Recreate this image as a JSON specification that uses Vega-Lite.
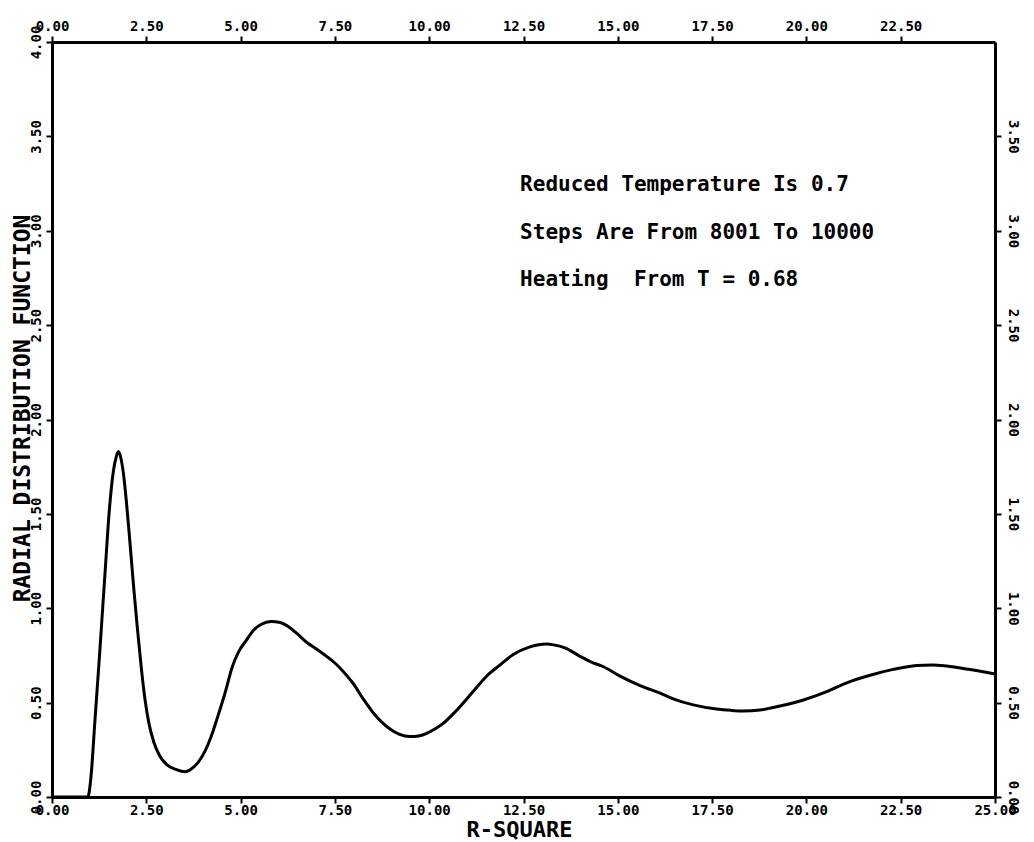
{
  "$schema": "https://vega.github.io/schema/vega-lite/v6.json",
  "width": 943,
  "height": 755,
  "autosize": "none",
  "padding": {"left": 52, "top": 42, "right": 39, "bottom": 45},
  "background": "white",
  "config": {
    "view": {"stroke": null},
    "axis": {
      "grid": false,
      "domainColor": "black",
      "domainWidth": 3,
      "tickColor": "black",
      "tickWidth": 2,
      "tickSize": 6,
      "labelColor": "black",
      "labelFont": "DejaVu Sans Mono",
      "labelFontWeight": "bold",
      "labelFontSize": 14,
      "labelOverlap": false,
      "labelFlush": false,
      "titleColor": "black",
      "titleFont": "DejaVu Sans Mono",
      "titleFontWeight": "bold"
    }
  },
  "datasets": {
    "gr": [
      {"r2": 0, "g": 0},
      {"r2": 0.5, "g": 0},
      {"r2": 0.95, "g": 0},
      {"r2": 1.03, "g": 0.1},
      {"r2": 1.14, "g": 0.41},
      {"r2": 1.27, "g": 0.78},
      {"r2": 1.41, "g": 1.2},
      {"r2": 1.52, "g": 1.52},
      {"r2": 1.63, "g": 1.73},
      {"r2": 1.7, "g": 1.8},
      {"r2": 1.76, "g": 1.83},
      {"r2": 1.82, "g": 1.8},
      {"r2": 1.89, "g": 1.72},
      {"r2": 1.97, "g": 1.57},
      {"r2": 2.07, "g": 1.34},
      {"r2": 2.17, "g": 1.1},
      {"r2": 2.27, "g": 0.88},
      {"r2": 2.38, "g": 0.66},
      {"r2": 2.47, "g": 0.51},
      {"r2": 2.57, "g": 0.39},
      {"r2": 2.7, "g": 0.29},
      {"r2": 2.85, "g": 0.22},
      {"r2": 3.05, "g": 0.17},
      {"r2": 3.3, "g": 0.145},
      {"r2": 3.53, "g": 0.134},
      {"r2": 3.7, "g": 0.15},
      {"r2": 3.88, "g": 0.185},
      {"r2": 4.05, "g": 0.24},
      {"r2": 4.22, "g": 0.32},
      {"r2": 4.4, "g": 0.43},
      {"r2": 4.6, "g": 0.56},
      {"r2": 4.78, "g": 0.69},
      {"r2": 4.95, "g": 0.77},
      {"r2": 5.15, "g": 0.83},
      {"r2": 5.35, "g": 0.885},
      {"r2": 5.55, "g": 0.915},
      {"r2": 5.8, "g": 0.93},
      {"r2": 6.05, "g": 0.925},
      {"r2": 6.25, "g": 0.905},
      {"r2": 6.5, "g": 0.865},
      {"r2": 6.75, "g": 0.82},
      {"r2": 7.0, "g": 0.785},
      {"r2": 7.28, "g": 0.745},
      {"r2": 7.5, "g": 0.71},
      {"r2": 7.72, "g": 0.665},
      {"r2": 7.99, "g": 0.6},
      {"r2": 8.25, "g": 0.52},
      {"r2": 8.52, "g": 0.445},
      {"r2": 8.75, "g": 0.395},
      {"r2": 8.96, "g": 0.36},
      {"r2": 9.2, "g": 0.333},
      {"r2": 9.49, "g": 0.32},
      {"r2": 9.72, "g": 0.323},
      {"r2": 9.93, "g": 0.337},
      {"r2": 10.15, "g": 0.36},
      {"r2": 10.37, "g": 0.39},
      {"r2": 10.73, "g": 0.46},
      {"r2": 11.17, "g": 0.56},
      {"r2": 11.52, "g": 0.64},
      {"r2": 11.88, "g": 0.7},
      {"r2": 12.23, "g": 0.755},
      {"r2": 12.67, "g": 0.795},
      {"r2": 12.9, "g": 0.807},
      {"r2": 13.11, "g": 0.81},
      {"r2": 13.3, "g": 0.806},
      {"r2": 13.6, "g": 0.79},
      {"r2": 14.0, "g": 0.745},
      {"r2": 14.3, "g": 0.715},
      {"r2": 14.62, "g": 0.69},
      {"r2": 15.06, "g": 0.64},
      {"r2": 15.59, "g": 0.59},
      {"r2": 16.12, "g": 0.55},
      {"r2": 16.47, "g": 0.52},
      {"r2": 17.0, "g": 0.488},
      {"r2": 17.62, "g": 0.466},
      {"r2": 18.0, "g": 0.459},
      {"r2": 18.33, "g": 0.456},
      {"r2": 18.77, "g": 0.461},
      {"r2": 19.3, "g": 0.482},
      {"r2": 19.92, "g": 0.514},
      {"r2": 20.54, "g": 0.558},
      {"r2": 21.07, "g": 0.605},
      {"r2": 21.69, "g": 0.645},
      {"r2": 22.3, "g": 0.676},
      {"r2": 22.92, "g": 0.697},
      {"r2": 23.35, "g": 0.7},
      {"r2": 23.72, "g": 0.694},
      {"r2": 24.34, "g": 0.675},
      {"r2": 25.0, "g": 0.652}
    ],
    "notes": [
      {"x": 12.41, "y": 3.24, "label": "Reduced Temperature Is 0.7"},
      {"x": 12.41, "y": 2.99, "label": "Steps Are From 8001 To 10000"},
      {"x": 12.41, "y": 2.74, "label": "Heating\u00a0 From T = 0.68"}
    ]
  },
  "layer": [
    {
      "data": {"name": "gr"},
      "mark": {"type": "line", "color": "black", "strokeWidth": 3, "interpolate": "monotone"},
      "encoding": {
        "x": {
          "field": "r2", "type": "quantitative",
          "scale": {"domain": [0, 25], "nice": false, "zero": false},
          "axis": {
            "orient": "bottom",
            "values": [0, 2.5, 5, 7.5, 10, 12.5, 15, 17.5, 20, 22.5, 25],
            "format": ".2f",
            "labelBaseline": "middle",
            "labelPadding": 7,
            "labelDx": 4,
            "title": "R-SQUARE",
            "titleFontSize": 22,
            "titleX": 467,
            "titleY": 32,
            "titleBaseline": "middle",
            "titleAlign": "center"
          }
        },
        "y": {
          "field": "g", "type": "quantitative",
          "scale": {"domain": [0, 4], "nice": false, "zero": false},
          "axis": {
            "orient": "left",
            "values": [0, 0.5, 1, 1.5, 2, 2.5, 3, 3.5, 4],
            "format": ".2f",
            "labelAngle": -90,
            "labelAlign": "center",
            "labelBaseline": "middle",
            "labelPadding": 10,
            "title": "RADIAL DISTRIBUTION FUNCTION",
            "titleFontSize": 23,
            "titleAngle": -90,
            "titleX": -30,
            "titleY": 366,
            "titleAlign": "center",
            "titleBaseline": "middle"
          }
        }
      }
    },
    {
      "data": {"name": "notes"},
      "mark": {"type": "text", "align": "left", "baseline": "middle", "font": "DejaVu Sans Mono", "fontWeight": "bold", "fontSize": 21, "color": "black"},
      "encoding": {
        "x": {
          "field": "x", "type": "quantitative",
          "scale": {"domain": [0, 25], "nice": false, "zero": false},
          "axis": {
            "orient": "top",
            "values": [0, 2.5, 5, 7.5, 10, 12.5, 15, 17.5, 20, 22.5],
            "format": ".2f",
            "labelBaseline": "middle",
            "labelPadding": 10,
            "labelDx": 4,
            "title": null
          }
        },
        "y": {
          "field": "y", "type": "quantitative",
          "scale": {"domain": [0, 4], "nice": false, "zero": false},
          "axis": {
            "orient": "right",
            "values": [0, 0.5, 1, 1.5, 2, 2.5, 3, 3.5],
            "format": ".2f",
            "labelAngle": 90,
            "labelAlign": "center",
            "labelBaseline": "middle",
            "labelPadding": 11,
            "title": null
          }
        },
        "text": {"field": "label", "type": "nominal"}
      }
    }
  ],
  "resolve": {"axis": {"x": "independent", "y": "independent"}}
}
